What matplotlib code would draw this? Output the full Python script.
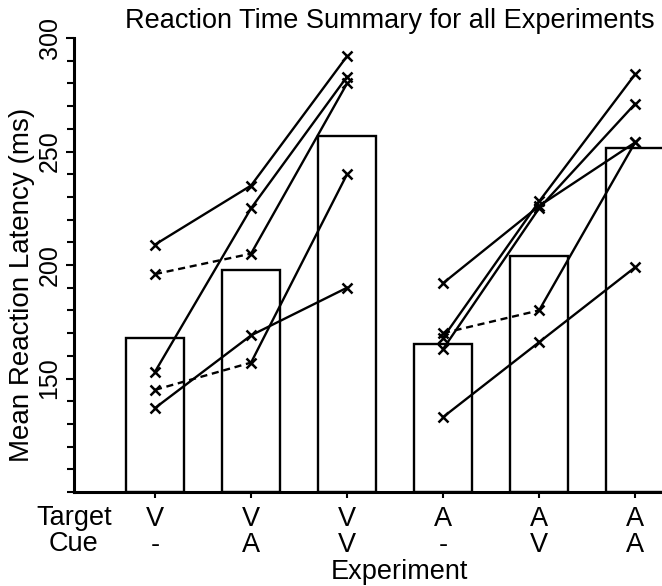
import matplotlib
matplotlib.use('Agg')
import matplotlib.pyplot as plt
from matplotlib.ticker import MultipleLocator, FixedLocator

plt.rcParams['font.family'] = ['Liberation Sans', 'DejaVu Sans']

# experiments: target / cue modality
targets = ['V', 'V', 'V', 'A', 'A', 'A']
cues = ['-', 'A', 'V', '-', 'V', 'A']
bar_means = [168, 198, 257, 165, 204, 251.5]

# individual subjects, visual-target experiments (1-3)
vis_subjects = [
    [209, 235, 292],
    [196, 205, 280],
    [153, 225, 283],
    [145, 157, 240],
    [137, 169, 190],
]
vis_styles = [
    ['-', '-'],
    ['--', '-'],
    ['-', '-'],
    ['--', '-'],
    ['-', '-'],
]

# individual subjects, auditory-target experiments (4-6)
aud_subjects = [
    [192, 226, 254],
    [170, 180, 254],
    [168, 228, 284],
    [163, 225, 271],
    [133, 166, 199],
]
aud_styles = [
    ['-', '-'],
    ['--', '-'],
    ['-', '-'],
    ['-', '-'],
    ['-', '-'],
]

fs = 19.5
fig = plt.figure(figsize=(6.62, 5.86), dpi=100)
W, H = 662.0, 586.0
ax = fig.add_axes([74 / W, 94 / H, (662 - 74) / W, (492 - 38) / H])

xpos = list(range(1, len(targets) + 1))
ax.bar(xpos, [m - 100 for m in bar_means], bottom=100, width=0.6,
       facecolor='white', edgecolor='black', linewidth=1.7, zorder=1)


def draw_subjects(xs, subjects, styles):
    for vals, sty in zip(subjects, styles):
        for i, ls in enumerate(sty):
            dash = (0, (3, 2)) if ls == '--' else '-'
            ax.plot(xs[i:i + 2], vals[i:i + 2], color='black', lw=1.7,
                    linestyle=dash, zorder=2)
        ax.plot(xs, vals, linestyle='none', marker='x', color='black',
                markersize=7, markeredgewidth=1.8, zorder=3)


draw_subjects(xpos[:3], vis_subjects, vis_styles)
draw_subjects(xpos[3:], aud_subjects, aud_styles)

ax.set_xlim(0.156, 6.28)
ax.set_ylim(100, 300)
ax.yaxis.set_major_locator(FixedLocator([150, 200, 250, 300]))
ax.yaxis.set_minor_locator(MultipleLocator(10))
ax.tick_params(axis='y', which='major', direction='out', length=6, width=1.5,
               labelsize=18, pad=3)
ax.tick_params(axis='y', which='minor', direction='out', length=5, width=1.5)
for lab in ax.get_yticklabels():
    lab.set_rotation(90)
    lab.set_va('center')

ax.set_xticks(xpos)
ax.set_xticklabels([f'{t}\n{c}' for t, c in zip(targets, cues)],
                   fontsize=fs, linespacing=1.0)
ax.tick_params(axis='x', direction='out', length=4, width=1.5, pad=6)

for side in ['top', 'right']:
    ax.spines[side].set_visible(False)
ax.spines['left'].set_linewidth(2.2)
ax.spines['bottom'].set_linewidth(2.2)

ax.set_ylabel('Mean Reaction Latency (ms)', fontsize=20, va='center')
ax.yaxis.set_label_coords(-52 / 588, (492 - 285) / 454)

ax.text(0.0, -13 / 454, 'Target\nCue', transform=ax.transAxes, fontsize=fs,
        ha='center', va='top', linespacing=1.0)
fig.text(399 / W, 1 - 579 / H, 'Experiment', fontsize=fs, ha='center', va='baseline')
fig.text(390 / W, 1 - 28 / H, 'Reaction Time Summary for all Experiments',
         fontsize=fs, ha='center', va='baseline')

fig.savefig('out.png', dpi=100)
